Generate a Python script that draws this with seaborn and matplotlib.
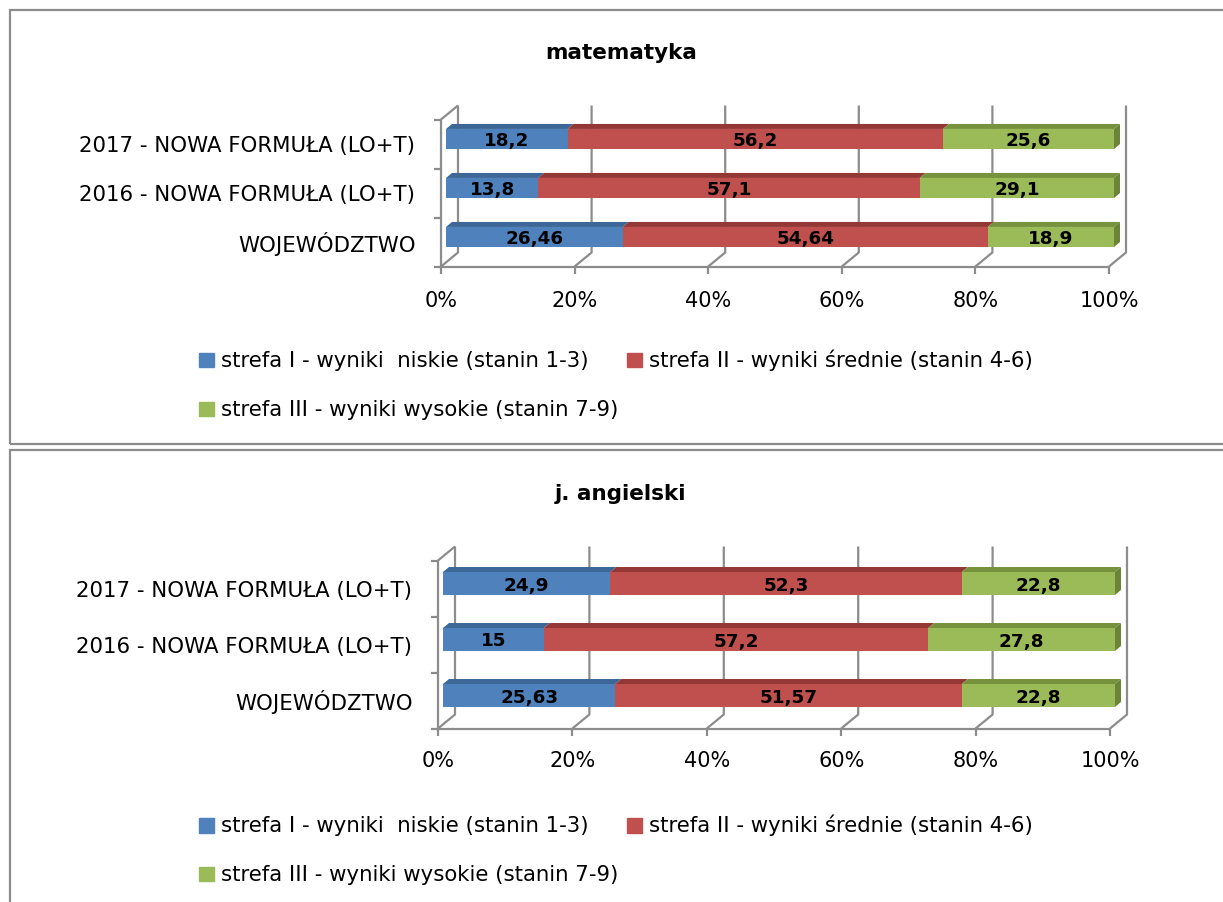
import matplotlib
matplotlib.use("Agg")
import matplotlib.pyplot as plt
import pandas as pd
import seaborn as sns
from matplotlib.patches import Polygon, Rectangle
from matplotlib.transforms import ScaledTranslation

W, H = 1223, 902

# data
rows = ["2017 - NOWA FORMUŁA (LO+T)", "2016 - NOWA FORMUŁA (LO+T)", "WOJEWÓDZTWO"]
zones = ["strefa I - wyniki  niskie (stanin 1-3)",
         "strefa II - wyniki średnie (stanin 4-6)",
         "strefa III - wyniki wysokie (stanin 7-9)"]
x_ticks = [0, 20, 40, 60, 80, 100]
x_tick_labels = ["0%", "20%", "40%", "60%", "80%", "100%"]

mat_low = [18.2, 13.8, 26.46]
mat_mid = [56.2, 57.1, 54.64]
mat_high = [25.6, 29.1, 18.9]

ang_low = [24.9, 15, 25.63]
ang_mid = [52.3, 57.2, 51.57]
ang_high = [22.8, 27.8, 22.8]

zone_colors = ["#4F81BD", "#C0504D", "#9BBB59"]
top_colors = ["#3C6796", "#943836", "#76923C"]
side_color = "#6A8537"
GRID = "#8c8c8c"

sns.set_style("white")
plt.rcParams["font.family"] = ["DejaVu Sans"]
plt.rcParams["text.color"] = "black"
plt.rcParams["xtick.color"] = "black"
plt.rcParams["ytick.color"] = "black"

FRONT = (-5, 5)   # front wall offset in px (right, down)
BACK = (12, -9)   # back wall offset in px
FACE = (6, -5)    # depth of the bar top face in px
BAR_H = 0.41
TXT = 15.3


def fmt(v):
    return f"{v:g}".replace(".", ",")


def px_to_data(ax, dx, dy):
    bb = ax.get_position()
    x0, x1 = ax.get_xlim()
    y0, y1 = ax.get_ylim()
    return dx * (x1 - x0) / (bb.width * W), dy * (y0 - y1) / (bb.height * H)


def draw_panel(fig, box, title, title_y, low, mid, high, legend_y, xpad):
    left, right, top, bottom = box
    ax = fig.add_axes([left / W, 1 - bottom / H, (right - left) / W, (bottom - top) / H])
    df = pd.DataFrame({"row": rows, "low": low, "mid": mid, "high": high})
    df["c1"] = df["low"]
    df["c2"] = df["low"] + df["mid"]
    df["c3"] = df["c2"] + df["high"]

    # stacked bars drawn as layered cumulative bars
    for col, color in zip(["c3", "c2", "c1"], zone_colors[::-1]):
        sns.barplot(data=df, x=col, y="row", orient="h", color=color, width=BAR_H,
                    errorbar=None, linewidth=0, saturation=1, ax=ax, zorder=3)

    ax.set_xlim(x_ticks[0], x_ticks[-1])
    ax.set_ylim(len(rows) - 0.5, -0.5)
    ax.set_xlabel("")
    ax.set_ylabel("")
    sns.despine(ax=ax, left=True, bottom=True)

    # 3d-ish top faces, end face and value labels
    fx, fy = px_to_data(ax, *FACE)
    for i in range(len(rows)):
        segs = [(0, low[i]), (low[i], mid[i]), (low[i] + mid[i], high[i])]
        ytop = i - BAR_H / 2
        ybot = i + BAR_H / 2
        for k, (l, w) in enumerate(segs):
            ax.add_patch(Polygon([(l, ytop), (l + w, ytop), (l + w + fx, ytop + fy),
                                  (l + fx, ytop + fy)], closed=True, clip_on=False,
                                 color=top_colors[k], lw=0, zorder=3))
            ax.text(l + w / 2, i, fmt(w), ha="center", va="center_baseline",
                    fontsize=13.2, fontweight="bold", zorder=5)
        end = df["c3"][i]
        ax.add_patch(Polygon([(end, ytop), (end + fx, ytop + fy), (end + fx, ybot + fy),
                              (end, ybot)], closed=True, clip_on=False,
                             color=side_color, lw=0, zorder=3))

    # walls and floor
    ox, oy = px_to_data(ax, *FRONT)
    bx, by = px_to_data(ax, *BACK)
    tx, ty = px_to_data(ax, 7, 7)
    kw = dict(color=GRID, lw=1.6, clip_on=False, solid_capstyle="butt")
    y_first, y_last = -0.5, len(rows) - 0.5
    for t in x_ticks:
        ax.plot([t + bx, t + bx, t + ox], [y_first + by, y_last + by, y_last + oy],
                zorder=1, **kw)
        ax.plot([t + ox, t + ox], [y_last + oy, y_last + oy + ty], zorder=1, **kw)
    ax.plot([x_ticks[0] + ox, x_ticks[-1] + ox], [y_last + oy] * 2, zorder=1, **kw)
    ax.plot([bx, ox, ox], [y_first + by, y_first + oy, y_last + oy], zorder=1, **kw)
    for b in range(len(rows) + 1):
        ax.plot([ox - tx, ox], [b - 0.5 + oy] * 2, zorder=1, **kw)

    ax.set_xticks(x_ticks, x_tick_labels)
    ax.tick_params(axis="x", length=0, pad=xpad, labelsize=15)
    ax.tick_params(axis="y", length=0, pad=22, labelsize=TXT)
    for lab in ax.get_xticklabels():
        lab.set_transform(lab.get_transform() + ScaledTranslation(FRONT[0] / 100, 0, fig.dpi_scale_trans))
    for lab in ax.get_yticklabels():
        lab.set_transform(lab.get_transform() + ScaledTranslation(0, -FRONT[1] / 100, fig.dpi_scale_trans))

    fig.text(621 / W, 1 - title_y / H, title, ha="center", va="center",
             fontsize=15.5, fontweight="bold")

    handles = [Rectangle((0, 0), 1, 1, color=c) for c in zone_colors]
    order = [0, 2, 1]
    fig.legend([handles[k] for k in order], [zones[k] for k in order], ncol=2,
               loc="upper left", bbox_to_anchor=(199 / W, 1 - legend_y / H),
               frameon=False, fontsize=TXT, handlelength=0.7, handleheight=0.7,
               handletextpad=0.32, columnspacing=0.42, labelspacing=1.36,
               borderaxespad=0, borderpad=0)
    return ax


fig = plt.figure(figsize=(W / 100, H / 100), dpi=100)

# panel frames
fig.add_artist(Rectangle((10 / W, 1 - 444 / H), 1.0, 434 / H, transform=fig.transFigure,
                         fill=False, ec=GRID, lw=1.6))
fig.add_artist(Rectangle((10 / W, -0.05), 1.0, 0.05 + 1 - 450 / H, transform=fig.transFigure,
                         fill=False, ec=GRID, lw=1.6))

draw_panel(fig, (446, 1114, 114.5, 261.5), "matematyka", 53,
           mat_low, mat_mid, mat_high, 350, 21)
draw_panel(fig, (443, 1115, 555.5, 723.5), "j. angielski", 494,
           ang_low, ang_mid, ang_high, 815, 20)

fig.savefig("out.png", dpi=100)
